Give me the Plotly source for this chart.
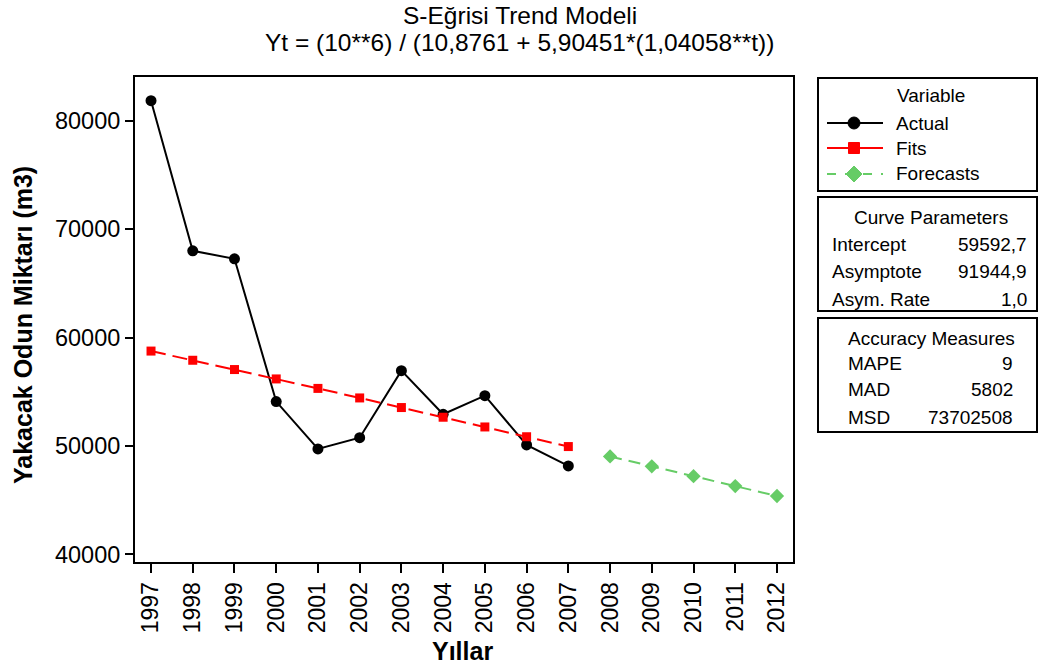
import plotly.graph_objects as go

# ---- data ----
years_fit = [1997, 1998, 1999, 2000, 2001, 2002, 2003, 2004, 2005, 2006, 2007]
actual = [81845, 68000, 67260, 54096, 49723, 50766, 56946, 52924, 54640, 50092, 48155]
fits = [58753, 57905, 57048, 56183, 55310, 54430, 53544, 52651, 51754, 50852, 49946]
years_fc = [2008, 2009, 2010, 2011, 2012]
forecasts = [49037, 48126, 47213, 46299, 45384]

x_ticks = list(range(1997, 2013))
y_ticks = [40000, 50000, 60000, 70000, 80000]

curve_params = [("Intercept", "59592,7"), ("Asymptote", "91944,9"), ("Asym. Rate", "1,0")]
accuracy = [("MAPE", "9"), ("MAD", "5802"), ("MSD", "73702508")]

FONT = "Liberation Sans, Arial, sans-serif"
W, H = 1038, 668
L, R, T, B = 135, 793, 77, 562
GREEN = "#66CC66"


def px(x):
    return (x - L) / (R - L)


def py(y):
    return (B - y) / (B - T)


fig = go.Figure()
fig.add_trace(go.Scatter(
    x=years_fit, y=actual, mode="lines+markers", name="Actual",
    line=dict(color="black", width=2),
    marker=dict(symbol="circle", size=11, color="black"),
))
fig.add_trace(go.Scatter(
    x=years_fit, y=fits, mode="lines+markers", name="Fits",
    line=dict(color="#FF0000", width=2, dash="15px,7px"),
    marker=dict(symbol="square", size=9, color="#FF0000"),
))
fig.add_trace(go.Scatter(
    x=years_fc, y=forecasts, mode="lines+markers", name="Forecasts",
    line=dict(color=GREEN, width=2, dash="12px,7px"),
    marker=dict(symbol="diamond", size=11, color=GREEN),
))

shapes = []
annotations = []

# title
annotations.append(dict(text="S-Eğrisi Trend Modeli", x=px(520), y=py(15), xref="paper", yref="paper",
                        xanchor="center", yanchor="middle", showarrow=False,
                        font=dict(family=FONT, size=24.5, color="black")))
annotations.append(dict(text="Yt = (10**6) / (10,8761 + 5,90451*(1,04058**t))", x=px(519), y=py(42),
                        xref="paper", yref="paper", xanchor="center", yanchor="middle", showarrow=False,
                        font=dict(family=FONT, size=24.5, color="black")))

# axis titles
annotations.append(dict(text="<b>Yakacak Odun Miktarı (m3)</b>", x=px(23), y=py(325), xref="paper", yref="paper",
                        xanchor="center", yanchor="middle", textangle=-90, showarrow=False,
                        font=dict(family=FONT, size=25, color="black")))
annotations.append(dict(text="<b>Yıllar</b>", x=px(462), y=py(651), xref="paper", yref="paper",
                        xanchor="center", yanchor="middle", showarrow=False,
                        font=dict(family=FONT, size=25, color="black")))

# side boxes
for (y0, y1) in [(78, 191), (197, 311), (318, 432)]:
    shapes.append(dict(type="rect", xref="paper", yref="paper", x0=px(818), x1=px(1037), y0=py(y0), y1=py(y1),
                       line=dict(color="black", width=2), fillcolor="rgba(0,0,0,0)"))

LF = 19


def txt(s, x, y, anchor):
    annotations.append(dict(text=s, x=px(x), y=py(y), xref="paper", yref="paper", xanchor=anchor,
                            yanchor="middle", showarrow=False, font=dict(family=FONT, size=LF, color="black")))


# Variable legend
txt("Variable", 931, 96, "center")
rows = [("Actual", 123, "black", "solid"), ("Fits", 148, "#FF0000", "solid"), ("Forecasts", 174, GREEN, "dash")]
for name, y, col, dash in rows:
    shapes.append(dict(type="line", xref="paper", yref="paper", x0=px(827), x1=px(883), y0=py(y), y1=py(y),
                       line=dict(color=col, width=2, dash=dash)))
    txt(name, 894, y, "left")
# glyphs
shapes.append(dict(type="circle", xref="paper", yref="paper", x0=px(848), x1=px(860), y0=py(117), y1=py(129),
                   fillcolor="black", line=dict(color="black", width=1)))
shapes.append(dict(type="rect", xref="paper", yref="paper", x0=px(848.5), x1=px(859.5), y0=py(142.5), y1=py(153.5),
                   fillcolor="#FF0000", line=dict(color="#FF0000", width=1)))
dx, dy = 8, 8
shapes.append(dict(type="path", xref="paper", yref="paper",
                   path=f"M {px(854 - dx)},{py(174)} L {px(854)},{py(174 - dy)} L {px(854 + dx)},{py(174)} L {px(854)},{py(174 + dy)} Z",
                   fillcolor=GREEN, line=dict(color=GREEN, width=1)))

# Curve parameters
txt("Curve Parameters", 931, 218, "center")
for (lab, val), y in zip(curve_params, [244, 271, 299]):
    txt(lab, 830, y, "left")
    txt(val, 1029, y, "right")

# Accuracy measures
txt("Accuracy Measures", 931, 338, "center")
for (lab, val), y in zip(accuracy, [363, 390, 417]):
    txt(lab, 846, y, "left")
    txt(val, 1015, y, "right")

fig.update_layout(
    width=W, height=H,
    margin=dict(l=L, r=W - R, t=T, b=H - B, pad=0),
    paper_bgcolor="white", plot_bgcolor="white",
    showlegend=False,
    shapes=shapes, annotations=annotations,
    font=dict(family=FONT, color="black"),
)
fig.update_xaxes(
    range=[1996.616, 2012.384], tickvals=x_ticks, ticktext=[str(v) for v in x_ticks],
    tickangle=-90, ticks="outside", ticklen=9, tickwidth=2, tickcolor="black",
    showline=True, linewidth=2, linecolor="black", mirror=True, showgrid=False, zeroline=False,
    tickfont=dict(family=FONT, size=23, color="black"),
)
fig.update_yaxes(
    range=[39299, 84030], tickvals=y_ticks, ticktext=[str(v) for v in y_ticks],
    ticks="outside", ticklen=8, tickwidth=2, tickcolor="black",
    showline=True, linewidth=2, linecolor="black", mirror=True, showgrid=False, zeroline=False,
    tickfont=dict(family=FONT, size=23.5, color="black"),
)

fig.write_html("out.html")
